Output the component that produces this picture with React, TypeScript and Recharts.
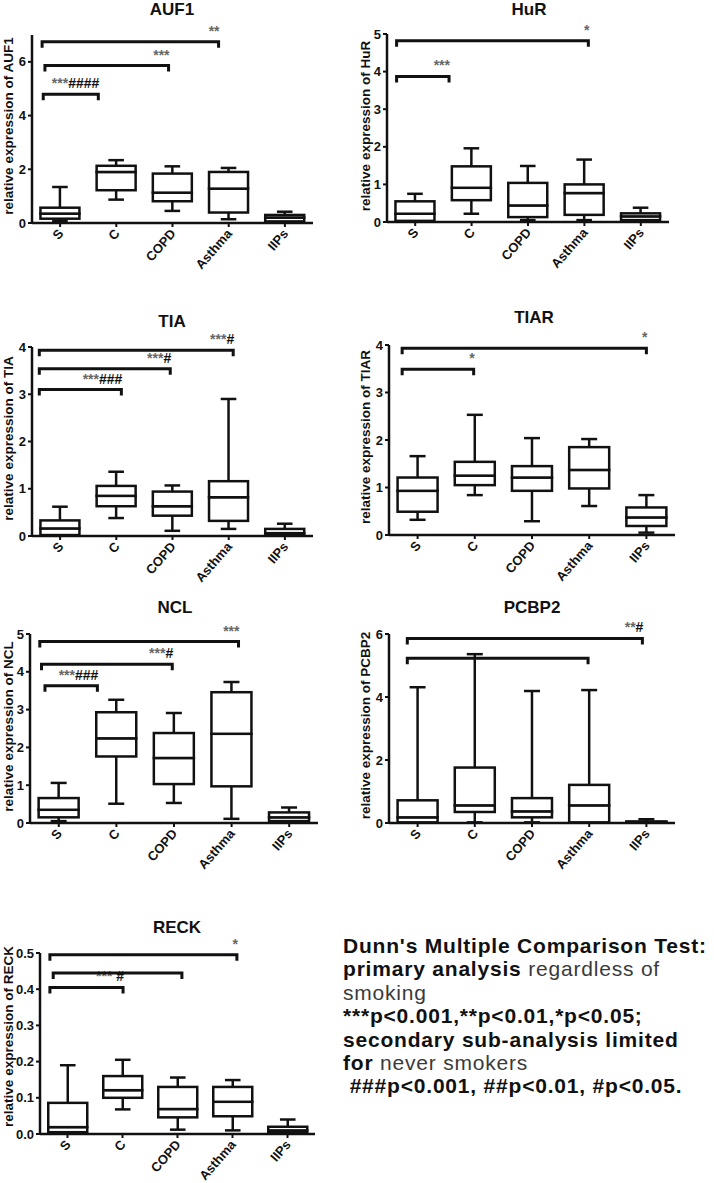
import * as React from 'react';
import { ComposedChart, Bar, XAxis, YAxis, ReferenceLine } from 'recharts';

const categories = ['S', 'C', 'COPD', 'Asthma', 'IIPs'];

// five-number summary per group: [min, q1, median, q3, max]
const auf1Box = [
  [0.08, 0.16, 0.35, 0.57, 1.34],
  [0.87, 1.22, 1.9, 2.13, 2.34],
  [0.45, 0.81, 1.13, 1.84, 2.11],
  [0.14, 0.39, 1.28, 1.9, 2.05],
  [0.03, 0.06, 0.2, 0.3, 0.42],
];
const hurBox = [
  [0.02, 0.03, 0.22, 0.55, 0.75],
  [0.22, 0.58, 0.91, 1.48, 1.96],
  [0.05, 0.13, 0.44, 1.04, 1.49],
  [0.05, 0.19, 0.77, 1.0, 1.66],
  [0.02, 0.05, 0.15, 0.23, 0.38],
];
const tiaBox = [
  [0.01, 0.02, 0.16, 0.33, 0.62],
  [0.38, 0.63, 0.85, 1.06, 1.36],
  [0.11, 0.43, 0.63, 0.94, 1.07],
  [0.15, 0.32, 0.82, 1.16, 2.9],
  [0.0, 0.02, 0.06, 0.15, 0.26],
];
const tiarBox = [
  [0.32, 0.49, 0.93, 1.21, 1.66],
  [0.84, 1.05, 1.25, 1.54, 2.53],
  [0.29, 0.93, 1.21, 1.45, 2.04],
  [0.61, 0.98, 1.37, 1.85, 2.02],
  [0.05, 0.19, 0.37, 0.58, 0.84],
];
const nclBox = [
  [0.05, 0.15, 0.35, 0.66, 1.06],
  [0.51, 1.76, 2.24, 2.93, 3.26],
  [0.53, 1.03, 1.72, 2.38, 2.91],
  [0.11, 0.97, 2.36, 3.46, 3.73],
  [0.02, 0.05, 0.15, 0.28, 0.41],
];
const pcbp2Box = [
  [0.0, 0.02, 0.18, 0.72, 4.31],
  [0.02, 0.35, 0.56, 1.76, 5.36],
  [0.02, 0.18, 0.37, 0.79, 4.19],
  [0.0, 0.02, 0.56, 1.21, 4.22],
  [0.0, 0.01, 0.03, 0.05, 0.12],
];
const reckBox = [
  [0.0, 0.005, 0.019, 0.086, 0.19],
  [0.068, 0.1, 0.121, 0.16, 0.205],
  [0.012, 0.046, 0.069, 0.13, 0.156],
  [0.01, 0.049, 0.089, 0.13, 0.149],
  [0.0, 0.003, 0.01, 0.02, 0.04],
];

// significance brackets: from/to are positions along the groups (S = 0, C = 1, ...)
const auf1Brackets = [
  { from: -0.3, to: 0.68, y: 4.79, text: '***####' },
  { from: -0.27, to: 1.93, y: 5.86, text: '***' },
  { from: -0.32, to: 2.82, y: 6.75, text: '**' },
];
const hurBrackets = [
  { from: -0.33, to: 0.6, y: 3.87, text: '***' },
  { from: -0.33, to: 3.07, y: 4.82, text: '*' },
];
const tiaBrackets = [
  { from: -0.37, to: 1.09, y: 3.1, text: '***###' },
  { from: -0.37, to: 1.96, y: 3.54, text: '***#' },
  { from: -0.37, to: 3.08, y: 3.93, text: '***#' },
];
const tiarBrackets = [
  { from: -0.27, to: 0.98, y: 3.49, text: '*' },
  { from: -0.27, to: 4.0, y: 3.93, text: '*' },
];
const nclBrackets = [
  { from: -0.24, to: 0.67, y: 3.63, text: '***###' },
  { from: -0.3, to: 1.97, y: 4.2, text: '***#' },
  { from: -0.33, to: 3.12, y: 4.8, text: '***' },
];
const pcbp2Brackets = [
  { from: -0.18, to: 2.98, y: 5.23, text: '' },
  { from: -0.18, to: 3.93, y: 5.86, text: '**#' },
];
const reckBrackets = [
  { from: -0.32, to: 1.01, y: 0.405, text: '*** #' },
  { from: -0.26, to: 2.08, y: 0.445, text: '' },
  { from: -0.32, to: 3.08, y: 0.495, text: '*' },
];

const FONT = "'Liberation Sans', Arial, Helvetica, sans-serif";
const INK = '#111';
const LW = 2.5;

const toRows = (box: number[][]) =>
  categories.map((name, i) => {
    const [min, q1, median, q3, max] = box[i];
    return {
      name,
      base: min,
      lowWhisker: q1 - min,
      lowBox: median - q1,
      highBox: q3 - median,
      highWhisker: max - q3,
    };
  });

const lowWhiskerShape = (props: any) => {
  const { x, y, width, height } = props;
  const cx = x + width / 2;
  const cap = width * 0.2;
  return (
    <g>
      <line x1={cx} y1={y} x2={cx} y2={y + height} stroke={INK} strokeWidth={LW} />
      <line x1={cx - cap} y1={y + height} x2={cx + cap} y2={y + height} stroke={INK} strokeWidth={LW} />
    </g>
  );
};

const highWhiskerShape = (props: any) => {
  const { x, y, width, height } = props;
  const cx = x + width / 2;
  const cap = width * 0.2;
  return (
    <g>
      <line x1={cx} y1={y} x2={cx} y2={y + height} stroke={INK} strokeWidth={LW} />
      <line x1={cx - cap} y1={y} x2={cx + cap} y2={y} stroke={INK} strokeWidth={LW} />
    </g>
  );
};

const boxShape = (props: any) => {
  const { x, y, width, height } = props;
  return <rect x={x} y={y} width={width} height={Math.max(height, 0)} fill="#fff" stroke={INK} strokeWidth={LW} />;
};

// the reference line runs between the two group centres; the bracket ends are
// shifted by the fractional part of from/to, measured in band widths
const bracketShape = (b: { from: number; to: number; text: string }) => (props: any) => {
  const { x1, y1, x2 } = props;
  const i0 = Math.round(b.from);
  const i1 = Math.round(b.to);
  const band = (x2 - x1) / (i1 - i0);
  const left = x1 + (b.from - i0) * band;
  const right = x2 + (b.to - i1) * band;
  const runs = b.text.match(/\*+|#+|\s+/g) || [];
  return (
    <g>
      <path d={`M${left},${y1 + 6}V${y1}H${right}V${y1 + 6}`} fill="none" stroke={INK} strokeWidth={3} />
      {b.text ? (
        <text x={right + 1} y={y1 - 6} textAnchor="end" fontFamily={FONT} fontSize={14} fontWeight="bold" style={{ whiteSpace: 'pre' }}>
          {runs.map((r, i) => (
            <tspan key={i} fill={r[0] === '*' ? '#666' : INK}>{r}</tspan>
          ))}
        </text>
      ) : null}
    </g>
  );
};

const renderXTick = (props: any) => {
  const { x, y, payload } = props;
  const px = x + 4;
  const py = y + 5;
  return (
    <text x={px} y={py} transform={`rotate(-49, ${px}, ${py})`} textAnchor="end" fontFamily={FONT} fontSize={13} fontWeight="bold" fill={INK}>
      {payload.value}
    </text>
  );
};

type PanelProps = {
  gene: string;
  box: number[][];
  brackets: { from: number; to: number; y: number; text: string }[];
  domain: [number, number];
  ticks: number[];
  decimals: number;
  left: number;
  plotLeft: number;
  plotRight: number;
  plotTop: number;
  plotBottom: number;
  titleX: number;
  titleBase: number;
};

const Panel = (p: PanelProps) => {
  const top = p.plotTop - 18;
  const width = p.plotRight - p.left + 12;
  const height = Math.min(p.plotBottom - top + 62, 1183 - top);
  const axisH = height - 2 - (p.plotBottom - top);
  const labelY = (p.plotTop + p.plotBottom) / 2 - top;
  const rows = toRows(p.box);
  return (
    <>
      <div
        style={{
          position: 'absolute', left: p.titleX - 100, top: p.titleBase - 14.4, width: 200,
          textAlign: 'center', fontFamily: FONT, fontSize: 17, lineHeight: '17px', fontWeight: 'bold', color: INK,
        }}
      >
        {p.gene}
      </div>
      <div style={{ position: 'absolute', left: p.left, top }}>
        <ComposedChart width={width} height={height} data={rows} margin={{ top: 18, right: 12, left: 0, bottom: 2 }} barCategoryGap="15%">
          <XAxis
            dataKey="name" type="category" interval={0} height={axisH}
            tick={renderXTick} tickSize={4}
            axisLine={{ stroke: INK, strokeWidth: LW }} tickLine={{ stroke: INK, strokeWidth: 2 }}
          />
          <YAxis
            type="number" domain={p.domain} ticks={p.ticks} interval={0} allowDataOverflow
            width={p.plotLeft - p.left} tickSize={4} tickMargin={2}
            tickFormatter={(v: number) => v.toFixed(p.decimals)}
            tick={{ fontFamily: FONT, fontSize: 13, fontWeight: 'bold', fill: INK }}
            axisLine={{ stroke: INK, strokeWidth: LW }} tickLine={{ stroke: INK, strokeWidth: 2 }}
            label={
              <text
                x={13} y={labelY} transform={`rotate(-90, 13, ${labelY})`} textAnchor="middle"
                fontFamily={FONT} fontSize={13.5} fontWeight="bold" fill={INK}
              >
                {`relative expression of ${p.gene}`}
              </text>
            }
          />
          <Bar dataKey="base" stackId="box" fill="none" isAnimationActive={false} />
          <Bar dataKey="lowWhisker" stackId="box" shape={lowWhiskerShape} isAnimationActive={false} />
          <Bar dataKey="lowBox" stackId="box" shape={boxShape} isAnimationActive={false} />
          <Bar dataKey="highBox" stackId="box" shape={boxShape} isAnimationActive={false} />
          <Bar dataKey="highWhisker" stackId="box" shape={highWhiskerShape} isAnimationActive={false} />
          {p.brackets.map((b, i) => (
            <ReferenceLine
              key={'br' + i}
              ifOverflow="visible"
              segment={[
                { x: categories[Math.round(b.from)], y: b.y },
                { x: categories[Math.round(b.to)], y: b.y },
              ]}
              shape={bracketShape(b)}
            />
          ))}
        </ComposedChart>
      </div>
    </>
  );
};

const lineStyle: React.CSSProperties = { whiteSpace: 'pre', height: 23.4 };
const light: React.CSSProperties = { fontWeight: 'normal', color: '#3a3a3a' };

export default function App() {
  return (
    <div style={{ position: 'absolute', left: 0, top: 0, width: 714, height: 1183, background: '#fff', overflow: 'hidden' }}>
      <Panel gene="AUF1" box={auf1Box} brackets={auf1Brackets} domain={[0, 7]} ticks={[0, 2, 4, 6]} decimals={0}
        left={0} plotLeft={32} plotRight={313} plotTop={35} plotBottom={223} titleX={172} titleBase={15} />
      <Panel gene="HuR" box={hurBox} brackets={hurBrackets} domain={[0, 5]} ticks={[0, 1, 2, 3, 4, 5]} decimals={0}
        left={357} plotLeft={387} plotRight={669} plotTop={34} plotBottom={222} titleX={529} titleBase={15} />
      <Panel gene="TIA" box={tiaBox} brackets={tiaBrackets} domain={[0, 4]} ticks={[0, 1, 2, 3, 4]} decimals={0}
        left={0} plotLeft={32} plotRight={313} plotTop={347} plotBottom={536} titleX={172} titleBase={327} />
      <Panel gene="TIAR" box={tiarBox} brackets={tiarBrackets} domain={[0, 4]} ticks={[0, 1, 2, 3, 4]} decimals={0}
        left={357} plotLeft={389} plotRight={675} plotTop={345} plotBottom={535} titleX={534} titleBase={323} />
      <Panel gene="NCL" box={nclBox} brackets={nclBrackets} domain={[0, 5]} ticks={[0, 1, 2, 3, 4, 5]} decimals={0}
        left={0} plotLeft={30} plotRight={318} plotTop={634} plotBottom={823} titleX={175} titleBase={613} />
      <Panel gene="PCBP2" box={pcbp2Box} brackets={pcbp2Brackets} domain={[0, 6]} ticks={[0, 2, 4, 6]} decimals={0}
        left={357} plotLeft={389} plotRight={675} plotTop={634} plotBottom={823} titleX={532} titleBase={613} />
      <Panel gene="RECK" box={reckBox} brackets={reckBrackets} domain={[0, 0.5]} ticks={[0, 0.1, 0.2, 0.3, 0.4, 0.5]} decimals={1}
        left={0} plotLeft={40} plotRight={315} plotTop={953} plotBottom={1134} titleX={177} titleBase={933} />

      <div
        style={{
          position: 'absolute', left: 343, top: 934, fontFamily: FONT, fontSize: 21, lineHeight: '23.4px',
          fontWeight: 'bold', letterSpacing: 0.8, color: INK,
        }}
      >
        <div style={lineStyle}>Dunn's Multiple Comparison Test:</div>
        <div style={lineStyle}>primary analysis<span style={light}> regardless of</span></div>
        <div style={lineStyle}><span style={light}>smoking</span></div>
        <div style={lineStyle}>***p&lt;0.001,**p&lt;0.01,*p&lt;0.05;</div>
        <div style={lineStyle}>secondary sub-analysis limited</div>
        <div style={lineStyle}>for<span style={light}> never smokers</span></div>
        <div style={lineStyle}> ###p&lt;0.001, ##p&lt;0.01, #p&lt;0.05.</div>
      </div>
    </div>
  );
}
